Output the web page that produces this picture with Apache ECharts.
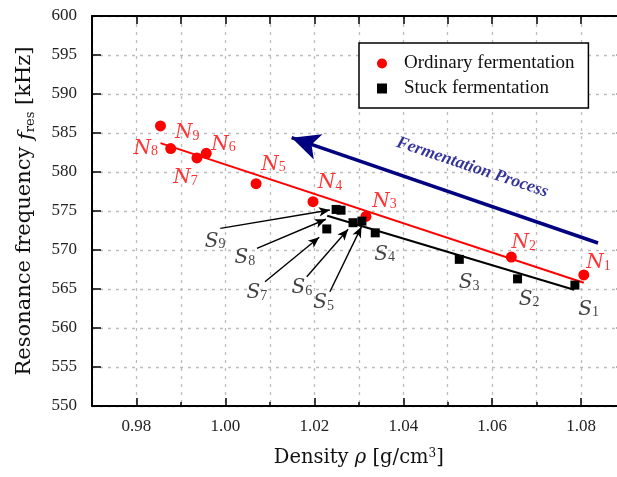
<!DOCTYPE html>
<html>
<head>
<meta charset="utf-8">
<script src="https://cdn.jsdelivr.net/npm/echarts@6/dist/echarts.min.js"></script>
<style>html,body{margin:0;padding:0;background:#fff}#c{width:617px;height:477px}</style>
</head>
<body>
<div id="c"></div>
<script>
// ---- data ----
const ordRho  = [1.0806, 1.0643, 1.0316, 1.0197, 1.0069, 0.9957, 0.9936, 0.9854, 0.9877];
const ordFreq = [566.8, 569.1, 574.3, 576.2, 578.5, 582.4, 581.8, 585.9, 583.0];
const stuckRho  = [1.0786, 1.0657, 1.0526, 1.0337, 1.0307, 1.0287, 1.0228, 1.0260, 1.0249];
const stuckFreq = [565.5, 566.3, 568.8, 572.2, 573.7, 573.5, 572.7, 575.1, 575.2];
const ordFitRho = [0.9854, 1.0806];
const ordFitFreq = [583.7, 565.8];
const stuckFitRho = [1.0229, 1.0784];
const stuckFitFreq = [574.4, 564.9];
const xMajorTicks = [0.98, 1.00, 1.02, 1.04, 1.06, 1.08];
const seriesNames = ['Ordinary fermentation', 'Stuck fermentation'];

// ---- annotation layout (data space) ----
const ordLabelPos = [[1.0839,568.5],[1.0671,571.06],[1.0358,576.41],[1.0235,578.76],[1.0108,581.12],[0.9996,583.68],[0.9910,579.40],[0.9821,583.2],[0.9914,585.17]];
const stuckLabelPos = [[1.0817,562.53],[1.0683,563.81],[1.0548,565.94],[1.0358,569.58],[1.0221,563.37],[1.0172,565.29],[1.0071,564.65],[1.0044,569.14],[0.9977,571.28]];
const stuckArrows = [ // S5..S9: [from, to]
  [[1.0235,564.65],[1.0306,572.99]],
  [[1.0183,566.58],[1.0276,572.65]],
  [[1.0089,565.94],[1.0211,571.63]],
  [[1.0071,570.22],[1.0226,573.94]],
  [[0.99886,572.78],[1.0235,575.13]]
];
const processArrow = [[1.0149,584.4],[1.0838,570.9]];
const processTextPos = [1.0555, 580.6];

const FONT = "'Liberation Serif','DejaVu Serif',serif";
const WIDE = "'DejaVu Serif','Liberation Serif',serif";
const zip = (a,b) => a.map((v,i)=>[v,b[i]]);
const subRich = (color) => ({
  a:{fontFamily:WIDE,fontStyle:'italic',fontSize:20,color:color,lineHeight:23,verticalAlign:'bottom'},
  b:{fontFamily:FONT,fontSize:14,color:color,lineHeight:10,verticalAlign:'bottom'}
});

const chart = echarts.init(document.getElementById('c'), null, {renderer:'canvas'});
const gridLine = {show:true,lineStyle:{type:[3,5],color:'#bdbdbd',width:1.3}};
chart.setOption({
  animation:false,
  backgroundColor:'#fff',
  grid:{left:92, top:16, width:533.6, height:390, containLabel:false, outerBoundsMode:'none'},
  legend:{
    data:seriesNames, orient:'vertical', left:359, top:43,
    padding:[11,14,10,18], itemGap:6, itemWidth:10, itemHeight:10,
    borderColor:'#000', borderWidth:1.5, backgroundColor:'#fff',
    textStyle:{fontFamily:FONT,fontSize:19,lineHeight:19,color:'#111',padding:[0,0,0,12]}, selectedMode:false
  },
  xAxis:[
    {type:'value',min:0.97,max:1.09,interval:0.01,position:'bottom',
     name:'Density {i|ρ} [g/cm{sup|3}]', nameLocation:'middle', nameGap:42,
     nameTextStyle:{fontFamily:WIDE,fontSize:19.5,color:'#111',
       rich:{i:{fontFamily:WIDE,fontStyle:'italic',fontSize:19.5,color:'#111'},
             sup:{fontFamily:WIDE,fontSize:12,color:'#111',verticalAlign:'top',lineHeight:20}}},
     axisLine:{lineStyle:{color:'#000',width:2}},
     axisTick:{inside:true,length:4,lineStyle:{color:'#000',width:1.5}},
     axisLabel:{margin:12,fontFamily:FONT,fontSize:17,color:'#222',
       formatter:v=>{const k=Math.round(v*100);return k%2===0?(k/100).toFixed(2):'';}},
     splitLine:gridLine},
    {type:'value',min:0.97,max:1.09,position:'bottom',
     axisLine:{show:false},
     axisTick:{inside:true,length:8,customValues:xMajorTicks,lineStyle:{color:'#000',width:1.5}},
     axisLabel:{show:false},splitLine:{show:false}},
    {type:'value',min:0.97,max:1.09,interval:0.01,position:'top',
     axisLine:{lineStyle:{color:'#000',width:2}},
     axisTick:{inside:true,length:8,lineStyle:{color:'#000',width:1.5}},
     axisLabel:{show:false},splitLine:{show:false}}
  ],
  yAxis:[
    {type:'value',min:550,max:600,interval:5,position:'left',
     name:'Resonance frequency {i|f}{s|res} [kHz]', nameLocation:'middle', nameGap:55, nameRotate:90,
     nameTextStyle:{fontFamily:WIDE,fontSize:21,color:'#111',
       rich:{i:{fontFamily:WIDE,fontStyle:'italic',fontSize:21,color:'#111',lineHeight:24,verticalAlign:'bottom'},
             s:{fontFamily:WIDE,fontSize:13,color:'#111',lineHeight:12,verticalAlign:'bottom'}}},
     axisLine:{lineStyle:{color:'#000',width:2}},
     axisTick:{inside:true,length:9,lineStyle:{color:'#000',width:1.5}},
     axisLabel:{margin:15,fontFamily:FONT,fontSize:17,color:'#222'},
     splitLine:gridLine},
    {type:'value',min:550,max:600,interval:5,position:'right',
     axisLine:{lineStyle:{color:'#000',width:2}},
     axisTick:{inside:true,length:9,lineStyle:{color:'#000',width:1.5}},
     axisLabel:{show:false},splitLine:{show:false}}
  ],
  series:[
    {type:'line',data:zip(ordFitRho,ordFitFreq),symbol:'none',lineStyle:{color:'#ff0000',width:2},z:2,silent:true,
     markLine:{silent:true,symbol:['arrow','none'],symbolSize:[20,28],animation:false,
       lineStyle:{color:'#000080',width:3.5,type:'solid'},label:{show:false},emphasis:{disabled:true},
       data:[[{coord:processArrow[0]},{coord:processArrow[1]}]]}},
    {type:'line',data:zip(stuckFitRho,stuckFitFreq),symbol:'none',lineStyle:{color:'#000',width:2},z:2,silent:true,
     markLine:{silent:true,symbol:['none','arrow'],symbolSize:[7,11],animation:false,
       lineStyle:{color:'#000',width:1.4,type:'solid'},label:{show:false},emphasis:{disabled:true},
       data:stuckArrows.map(a=>[{coord:a[0]},{coord:a[1]}])}},
    {name:seriesNames[0],type:'scatter',data:zip(ordRho,ordFreq),symbol:'circle',symbolSize:11,
     itemStyle:{color:'#ff0000',opacity:1},z:4},
    {name:seriesNames[1],type:'scatter',data:zip(stuckRho,stuckFreq),symbol:'rect',symbolSize:9,
     itemStyle:{color:'#000',opacity:1},z:4},
    {type:'scatter',symbolSize:0,silent:true,z:5,
     data:ordLabelPos.map((p,i)=>({value:p,name:'N'+(i+1)})),
     label:{show:true,position:'inside',formatter:p=>'{a|N}{b|'+p.name.slice(1)+'}',rich:subRich('#ff0000')}},
    {type:'scatter',symbolSize:0,silent:true,z:5,
     data:stuckLabelPos.map((p,i)=>({value:p,name:'S'+(i+1)})),
     label:{show:true,position:'inside',formatter:p=>'{a|S}{b|'+p.name.slice(1)+'}',rich:subRich('#111111')}},
    {type:'scatter',symbolSize:0,silent:true,z:5,data:[processTextPos],
     label:{show:true,position:'inside',rotate:-18.5,formatter:'Fermentation Process',
       fontFamily:FONT,fontStyle:'italic',fontWeight:'bold',fontSize:17.5,color:'#000080'}}
  ]
});
</script>
</body>
</html>
